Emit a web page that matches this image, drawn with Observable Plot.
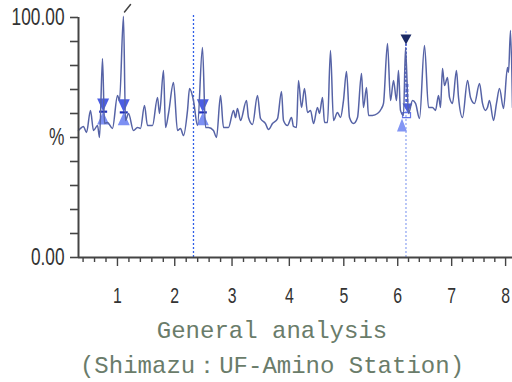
<!DOCTYPE html>
<html>
<head>
<meta charset="utf-8">
<script src="https://cdn.jsdelivr.net/npm/d3@7"></script>
<script src="https://cdn.jsdelivr.net/npm/@observablehq/plot@0.6"></script>
<style>
  html, body { margin: 0; padding: 0; background: #fff; }
  #chart svg { display: block; }
  .cap { width: 512px; box-sizing: border-box; padding-left: 32px; text-align: center;
         font-family: "Liberation Mono", "DejaVu Sans Mono", monospace; font-size: 24px;
         line-height: 35px; color: #6a7c6a; white-space: pre; margin-top: 2px; }
</style>
</head>
<body>
<div id="chart"></div>
<div class="cap">General analysis
(Shimazu：UF-Amino Station)</div>
<script>
// retention time (min) and relative intensity (%)
const retentionTime = [0.320,0.355,0.407,0.460,0.529,0.582,0.652,0.687,0.739,0.774,0.826,0.913,1.001,1.036,1.105,1.140,1.193,1.280,1.350,1.402,1.472,1.524,1.612,1.699,1.734,1.804,1.839,1.891,1.978,2.048,2.100,2.153,2.223,2.258,2.327,2.397,2.484,2.537,2.589,2.676,2.729,2.799,2.851,2.938,3.026,3.060,3.095,3.148,3.252,3.287,3.357,3.444,3.497,3.584,3.636,3.706,3.794,3.863,3.898,3.968,4.038,4.073,4.125,4.160,4.216,4.271,4.327,4.383,4.438,4.512,4.549,4.605,4.642,4.698,4.753,4.809,4.883,4.939,4.994,5.050,5.106,5.180,5.254,5.328,5.365,5.421,5.458,5.532,5.625,5.699,5.736,5.810,5.866,5.922,5.977,6.014,6.051,6.107,6.144,6.200,6.274,6.330,6.404,6.496,6.571,6.645,6.700,6.756,6.793,6.830,6.867,6.923,6.960,7.015,7.089,7.127,7.201,7.294,7.349,7.424,7.516,7.572,7.627,7.664,7.701,7.776,7.831,7.887,7.961,8.035,8.054,8.091,8.128];
const intensity = [52.9,53.8,54.6,52.1,61.3,52.9,55.0,50.0,82.9,55.8,56.3,53.8,67.5,65.4,100.5,57.1,60.0,52.9,54.2,53.8,63.3,55.0,55.0,66.7,60.0,77.9,54.2,60.0,72.9,52.9,53.8,50.8,61.3,70.4,65.4,55.0,87.5,54.2,54.2,52.9,50.0,67.5,54.2,54.2,61.3,58.3,62.1,57.1,65.4,58.3,55.4,67.5,57.9,55.8,53.3,55.8,57.9,69.2,57.1,55.0,58.3,54.6,54.2,73.8,62.5,70.4,60.4,61.3,55.8,62.5,60.0,66.7,56.3,56.3,86.3,57.1,60.4,58.3,65.4,77.5,58.3,55.8,58.3,76.7,62.5,70.8,59.2,59.2,60.0,62.1,64.2,89.2,65.4,73.8,65.4,77.9,61.3,59.2,87.5,60.0,65.4,64.2,57.9,88.3,62.5,62.5,61.3,67.5,62.5,78.8,71.7,75.0,66.7,64.2,77.9,66.7,58.3,73.8,66.7,64.2,72.5,64.2,61.3,62.5,65.4,57.1,64.2,70.4,62.1,79.2,77.1,94.6,62.5];

// off-scale indicator above the tallest peak
const overflowTime = [1.123, 1.228];
const overflowLevel = [102.3, 105.4];

// identified peaks (hourglass markers) and their marker level (%)
const peakMarkTime = [0.75, 1.11, 2.49];
const peakMarkLevel = [60.8, 60.5, 60.5];

// cursor lines (min) and their top (%)
const cursorTime = [2.327, 6.153];
const cursorTop = [100.8, 94.6];

// markers on second cursor
const cursorApexTime = 6.153, cursorApexLevel = 88.75;
const cursorMidTime = 6.181, cursorMidLevel = 60.4;
const cursorBoxTime = 6.163, cursorBoxLevel = 60.4;
const cursorLowTime = 6.079, cursorLowLevel = 57.9;
const cursorStripeTime = 6.17, cursorStripeTop = 72.9, cursorStripeBottom = 62.5;

const xMajorTicks = [1, 2, 3, 4, 5, 6, 7, 8];
const xMinorTicks = [0.4,0.6,0.8,1.2,1.4,1.6,1.8,2.2,2.4,2.6,2.8,3.2,3.4,3.6,3.8,4.2,4.4,4.6,4.8,5.2,5.4,5.6,5.8,6.2,6.4,6.6,6.8,7.2,7.4,7.6,7.8];
const yTicks = [0, 10, 20, 30, 40, 50, 60, 70, 80, 90, 100];
const yTickLabels = {0: "0.00", 50: "%", 100: "100.00"};

const trace = retentionTime.map((t, i) => ({t, v: intensity[i]}));
const overflow = overflowTime.map((t, i) => ({t, v: overflowLevel[i]}));
const peaks = peakMarkTime.map((t, i) => ({t, v: peakMarkLevel[i]}));
const cursors = cursorTime.map((t, i) => ({t, top: cursorTop[i]}));

// custom marker shapes (apex at the anchor point)
const triDown = (w, h) => ({draw(c) { c.moveTo(0, 0); c.lineTo(-w, -h); c.lineTo(w, -h); c.closePath(); }});
const triUp = (w, h) => ({draw(c) { c.moveTo(0, 0); c.lineTo(-w, h); c.lineTo(w, h); c.closePath(); }});
const bar = {draw(c) { c.rect(-4, -1, 8, 2.2); }};
const box = {draw(c) { c.rect(-4, 0, 8, 5); }};

const chart = Plot.plot({
  width: 512,
  height: 312,
  marginTop: 17,
  marginBottom: 55,
  marginLeft: 78,
  marginRight: 0,
  style: {fontFamily: "'Liberation Sans', Arial, sans-serif", background: "#fff", color: "#333"},
  x: {type: "linear", domain: [0.32, 4.16, 8.128], range: [78, 298, 512], label: null},
  y: {type: "linear", domain: [0, 100], label: null},
  marks: [
    // cursor lines
    Plot.ruleX([cursors[0]], {x: "t", y1: 0, y2: "top", stroke: "#2f5fe8", strokeWidth: 1.3, strokeDasharray: "2,2"}),
    Plot.ruleX([cursors[1]], {x: "t", y1: 0, y2: "top", stroke: "#94a9f2", strokeWidth: 1.3, strokeDasharray: "2,2"}),
    Plot.ruleX([cursorStripeTime], {x: d => d, y1: cursorStripeBottom, y2: cursorStripeTop, stroke: "#4a5fe0", strokeWidth: 3, strokeDasharray: "3,2"}),
    Plot.ruleX([cursorApexTime], {x: d => d, y1: cursorStripeTop, y2: cursorApexLevel, stroke: "#3a4fc8", strokeWidth: 1.5, strokeDasharray: "2,2"}),
    // hourglass peak markers
    Plot.dot(peaks, {x: "t", y: "v", symbol: triUp(6, 13), fill: "#7d90f3", stroke: "none"}),
    Plot.dot(peaks, {x: "t", y: "v", symbol: triDown(6, 13), fill: "#4c5ee4", stroke: "none"}),
    Plot.dot(peaks, {x: "t", y: "v", symbol: bar, fill: "#1f2fb8", stroke: "none"}),
    // markers on second cursor
    Plot.dot([0], {x: () => cursorLowTime, y: () => cursorLowLevel, symbol: triUp(5, 13), fill: "#8396f4", stroke: "none"}),
    Plot.dot([0], {x: () => cursorMidTime, y: () => cursorMidLevel, symbol: triDown(5, 9), fill: "#4c5ee4", stroke: "none"}),
    Plot.dot([0], {x: () => cursorBoxTime, y: () => cursorBoxLevel, symbol: box, fill: "none", stroke: "#6475e8", strokeWidth: 1.2}),
    // chromatogram trace
    Plot.line(trace, {x: "t", y: "v", stroke: "#5663a6", strokeWidth: 1.5, curve: "monotone-x"}),
    Plot.line(overflow, {x: "t", y: "v", stroke: "#444", strokeWidth: 1.5}),
    Plot.dot([0], {x: () => cursorApexTime, y: () => cursorApexLevel, symbol: triDown(5.5, 10), fill: "#1b2a66", stroke: "none"}),
    // axes
    Plot.axisY({ticks: yTicks, tickSize: 8, tickPadding: 6, fontSize: 24, tickFormat: d => yTickLabels[d] ?? "", stroke: "#444", strokeWidth: 1.6, color: "#333", label: null}),
    Plot.axisX({ticks: xMinorTicks, tickSize: 5, text: null, stroke: "#444", strokeWidth: 1.4, label: null}),
    Plot.axisX({ticks: xMajorTicks, tickSize: 9, tickPadding: 21, fontSize: 22, tickFormat: d => String(d), stroke: "#444", strokeWidth: 1.4, color: "#333", label: null}),
    Plot.ruleX([0.32], {y1: 0, y2: 100, stroke: "#444", strokeWidth: 2}),
    Plot.ruleY([0], {stroke: "#444", strokeWidth: 2})
  ]
});
document.getElementById("chart").appendChild(chart);

// condensed look for the tick labels
chart.querySelectorAll('g[aria-label="y-axis tick label"] text, g[aria-label="x-axis tick label"] text').forEach(t => {
  const len = t.getComputedTextLength();
  if (len > 0) {
    t.setAttribute("textLength", (len * 0.72).toFixed(1));
    t.setAttribute("lengthAdjust", "spacingAndGlyphs");
  }
});
</script>
</body>
</html>
